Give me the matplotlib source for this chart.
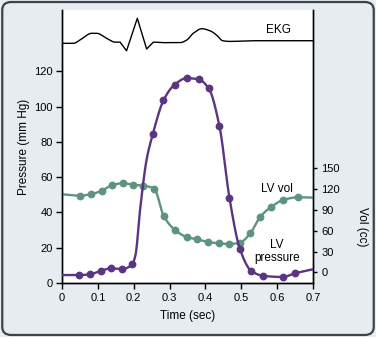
import numpy as np
import matplotlib
matplotlib.use("Agg")
import matplotlib.pyplot as plt
from matplotlib.patches import FancyBboxPatch

plt.rcParams['font.family'] = ['Liberation Sans', 'DejaVu Sans']

# ---- data ----
# LV pressure markers (time s, mm Hg)
p_t = [0.047, 0.078, 0.109, 0.137, 0.167, 0.196, 0.253, 0.283, 0.314, 0.348,
       0.381, 0.409, 0.439, 0.467, 0.496, 0.527, 0.560, 0.615, 0.650]
p_v = [4.5, 4.9, 7.0, 8.3, 7.9, 10.6, 84.2, 103.5, 112.4, 116.1,
       115.4, 110.3, 89.0, 48.2, 19.4, 7.0, 4.1, 3.4, 5.5]
# extra curve knots for pressure line (without markers)
p_curve_t = [0.0, 0.047, 0.078, 0.109, 0.137, 0.167, 0.196, 0.205, 0.218, 0.236,
             0.253, 0.283, 0.314, 0.348, 0.381, 0.409, 0.439, 0.467, 0.496,
             0.527, 0.560, 0.615, 0.650, 0.700]
p_curve_v = [4.5, 4.5, 4.9, 7.0, 8.3, 7.9, 10.6, 16.0, 42.0, 70.0,
             84.2, 103.5, 112.4, 116.1, 115.4, 110.3, 89.0, 48.2, 19.4,
             7.0, 4.1, 3.4, 5.5, 7.8]

# LV volume markers (time s, cc)
v_t = [0.050, 0.080, 0.111, 0.139, 0.169, 0.199, 0.227, 0.257, 0.284, 0.315,
       0.348, 0.377, 0.408, 0.437, 0.467, 0.496, 0.525, 0.553, 0.582, 0.617, 0.659]
v_v = [110.5, 112.5, 117.7, 125.4, 128.3, 126.3, 124.9, 120.6, 80.7, 61.0,
       50.9, 47.6, 43.7, 41.8, 40.8, 42.7, 56.2, 80.2, 93.7, 104.3, 108.2]
v_curve_t = [0.0] + v_t + [0.700]
v_curve_v = [112.5] + v_v + [107.6]

# EKG trace (time s, drawn on pressure scale)
ekg_t = [0.0, 0.032, 0.050, 0.083, 0.097, 0.125, 0.148, 0.162, 0.180, 0.210,
         0.236, 0.255, 0.283, 0.329, 0.348, 0.366, 0.390, 0.413, 0.431, 0.448,
         0.468, 0.533, 0.700]
ekg_v = [135.8, 135.8, 137.7, 141.5, 141.5, 138.6, 136.5, 136.5, 131.6, 150.0,
         132.6, 136.5, 136.2, 136.2, 137.7, 141.5, 144.1, 142.9, 140.5, 137.3,
         136.9, 137.3, 137.3]
# QRS complex drawn with straight strokes
qrs_start, qrs_end = 0.162, 0.255

x_ticks = [0, 0.1, 0.2, 0.3, 0.4, 0.5, 0.6, 0.7]
x_labels = ["0", "0.1", "0.2", "0.3", "0.4", "0.5", "0.6", "0.7"]
p_ticks = [0, 20, 40, 60, 80, 100, 120]
v_ticks = [0, 30, 60, 90, 120, 150]


def pchip(x, y, xs):
    x = np.asarray(x, float); y = np.asarray(y, float)
    h = np.diff(x); d = np.diff(y) / h
    n = len(x); m = np.zeros(n)
    for k in range(1, n - 1):
        if d[k - 1] * d[k] <= 0:
            m[k] = 0.0
        else:
            w1 = 2 * h[k] + h[k - 1]; w2 = h[k] + 2 * h[k - 1]
            m[k] = (w1 + w2) / (w1 / d[k - 1] + w2 / d[k])
    m[0] = d[0]; m[-1] = d[-1]
    idx = np.clip(np.searchsorted(x, xs) - 1, 0, n - 2)
    t = (xs - x[idx]) / h[idx]
    h00 = 2 * t**3 - 3 * t**2 + 1
    h10 = t**3 - 2 * t**2 + t
    h01 = -2 * t**3 + 3 * t**2
    h11 = t**3 - t**2
    return h00 * y[idx] + h10 * h[idx] * m[idx] + h01 * y[idx + 1] + h11 * h[idx] * m[idx + 1]


PURPLE = '#5b3582'
GREEN = '#5e9382'
BG = '#e7ecf1'

fig = plt.figure(figsize=(3.76, 3.37), dpi=100, facecolor=BG)
border = FancyBboxPatch((0.006, 0.006), 0.988, 0.988, boxstyle="round,pad=0,rounding_size=0.024",
                        transform=fig.transFigure, facecolor=BG, edgecolor='#3d434a', lw=1.6,
                        zorder=-10)
fig.patches.append(border)

ax = fig.add_axes([0.1649, 0.1602, 0.6676, 0.8101])
ax.set_facecolor('white')
ax.set_xlim(0, 0.7)
ax.set_ylim(0, 154.7)
ax2 = ax.twinx()
ax2.set_ylim(-15.4, 378)

xs = np.linspace(0, 0.7, 1401)
ekg_line = pchip(ekg_t, ekg_v, xs)
qrs = (xs >= qrs_start) & (xs <= qrs_end)
ekg_line[qrs] = np.interp(xs[qrs], ekg_t, ekg_v)
ax.plot(xs, ekg_line, color='black', lw=1.0)

ax2.plot(xs, pchip(v_curve_t, v_curve_v, xs), color=GREEN, lw=1.7, zorder=2)
ax2.plot(v_t, v_v, 'o', color=GREEN, ms=4.6, zorder=3)
# pressure drawn in ax2 coordinates so it stays above the volume curve
ax_to_ax2 = lambda p: -15.4 + (np.asarray(p) / 154.7) * (378 + 15.4)
ax2.plot(xs, ax_to_ax2(pchip(p_curve_t, p_curve_v, xs)), color=PURPLE, lw=1.7, zorder=4)
ax2.plot(p_t, ax_to_ax2(p_v), 'o', color=PURPLE, ms=4.6, zorder=5)

ax.spines['top'].set_visible(False); ax2.spines['top'].set_visible(False)
for a in (ax, ax2):
    for s in a.spines.values():
        s.set_linewidth(1.0)

ax.set_xticks(x_ticks)
ax.set_xticklabels(x_labels)
ax.set_yticks(p_ticks)
ax2.set_yticks(v_ticks)
ax.tick_params(axis='both', direction='out', length=4, width=1, labelsize=8, pad=2.5)
ax.tick_params(axis='x', pad=3)
ax2.tick_params(axis='y', direction='out', length=3, width=1, labelsize=8, pad=3)

ax.set_xlabel('Time (sec)', fontsize=8.5, labelpad=5)
ax.set_ylabel('Pressure (mm Hg)', fontsize=8.5, labelpad=3)
fig.text(0.962, 0.328, 'Vol (cc)', rotation=270, fontsize=8.5, ha='center', va='center')

ax.text(0.603, 143.6, 'EKG', fontsize=8.5, ha='center', va='center')
ax.text(0.599, 53.3, 'LV vol', fontsize=8.5, ha='center', va='center')
ax.text(0.599, 17.7, 'LV\npressure', fontsize=8.5, ha='center', va='center', linespacing=1.1)

fig.savefig('out.png', dpi=100, facecolor=BG)
